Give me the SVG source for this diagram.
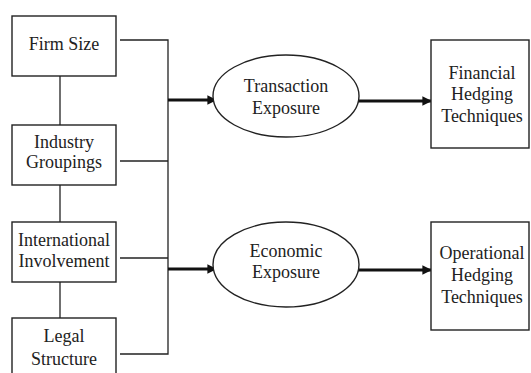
<svg xmlns="http://www.w3.org/2000/svg" width="531" height="373" viewBox="0 0 531 373">
<defs>
<style>
.box{fill:#fff;stroke:#222;stroke-width:1.4}
.ln{fill:none;stroke:#222;stroke-width:1.3}
.thick{fill:none;stroke:#111;stroke-width:3}
.t{font-family:'Liberation Serif','Times New Roman','DejaVu Serif',serif;font-size:18px;fill:#222;text-anchor:middle}
</style>
<marker id="ah" viewBox="0 0 10 10" refX="9" refY="5" markerWidth="3.2" markerHeight="3.2" orient="auto" markerUnits="strokeWidth">
<path d="M0,0 L10,5 L0,10 z" fill="#111"/>
</marker>
</defs>
<rect width="531" height="373" fill="#fff"/>
<g id="connectors">
<line class="ln" x1="60" y1="76" x2="60" y2="125"/>
<line class="ln" x1="60" y1="185" x2="60" y2="222"/>
<line class="ln" x1="60" y1="282" x2="60" y2="318"/>
<polyline class="ln" points="120,40 168,40 168,354 120,354"/>
<line class="ln" x1="120" y1="161" x2="168" y2="161"/>
<line class="ln" x1="120" y1="258" x2="168" y2="258"/>
<line class="thick" x1="168" y1="100" x2="216" y2="100" marker-end="url(#ah)"/>
<line class="thick" x1="168" y1="269" x2="216" y2="269" marker-end="url(#ah)"/>
<line class="thick" x1="358" y1="101" x2="431" y2="101" marker-end="url(#ah)"/>
<line class="thick" x1="358" y1="270" x2="431" y2="270" marker-end="url(#ah)"/>
</g>
<g class="t" font-family="Liberation Serif, serif">
<g id="firm-size">
<rect class="box" x="12" y="16" width="104" height="60"/>
<text x="64" y="50">Firm Size</text>
</g>
<g id="industry-groupings">
<rect class="box" x="12" y="125" width="104" height="60"/>
<text x="64" y="148">Industry</text>
<text x="64" y="168">Groupings</text>
</g>
<g id="international-involvement">
<rect class="box" x="12" y="222" width="104" height="60"/>
<text x="64" y="246">International</text>
<text x="64" y="267">Involvement</text>
</g>
<g id="legal-structure">
<rect class="box" x="12" y="318" width="104" height="62"/>
<text x="64" y="342">Legal</text>
<text x="64" y="365">Structure</text>
</g>
<g id="transaction-exposure">
<ellipse class="box" cx="286" cy="96" rx="73" ry="41"/>
<text x="286" y="92">Transaction</text>
<text x="286" y="114">Exposure</text>
</g>
<g id="economic-exposure">
<ellipse class="box" cx="286" cy="264.5" rx="73" ry="42.5"/>
<text x="286" y="257">Economic</text>
<text x="286" y="278">Exposure</text>
</g>
<g id="financial-hedging">
<rect class="box" x="431" y="40" width="98" height="108"/>
<text x="482" y="79">Financial</text>
<text x="482" y="100">Hedging</text>
<text x="482" y="122">Techniques</text>
</g>
<g id="operational-hedging">
<rect class="box" x="431" y="222" width="98" height="108"/>
<text x="482" y="259">Operational</text>
<text x="482" y="281">Hedging</text>
<text x="482" y="303">Techniques</text>
</g>
</g>
</svg>
